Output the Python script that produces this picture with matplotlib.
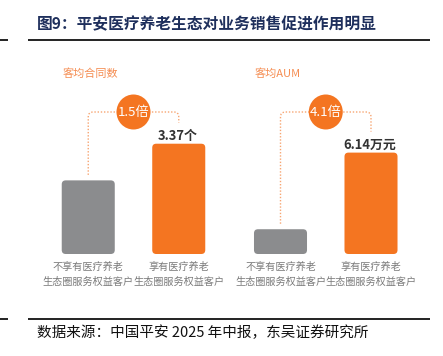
import matplotlib
matplotlib.use('Agg')
import matplotlib.pyplot as plt
from matplotlib.patches import FancyBboxPatch, Ellipse, PathPatch
from matplotlib.path import Path

plt.rcParams['font.family'] = ['Noto Sans CJK SC', 'DejaVu Sans']

# ---------------- data ----------------
title = "图9：平安医疗养老生态对业务销售促进作用明显"
source = "数据来源：中国平安 2025 年中报，东吴证券研究所"
categories = ["不享有医疗养老\n生态圈服务权益客户", "享有医疗养老\n生态圈服务权益客户"]
panel_titles = ["客均合同数", "客均AUM"]
contracts = [2.25, 3.37]          # 个
aum = [1.50, 6.14]                # 万元
value_labels = ["3.37个", "6.14万元"]
multiples = ["1.5倍", "4.1倍"]
ylims = [5.5, 10.9]

# ---------------- style ----------------
ORANGE = "#F47521"
LIGHT_ORANGE = "#F7A572"
TITLE_ORANGE = "#F58D52"
GRAY = "#8B8C8E"
LABEL_GRAY = "#7A7A7A"
NAVY = "#1E2F5C"

W, H = 443, 356
fig = plt.figure(figsize=(W / 100, H / 100), dpi=100)

panel_left_px = [43, 235.25]
ax_w, ax_h, ax_b = 181, 180, 102
axes = []
for i in range(2):
    ax = fig.add_axes([panel_left_px[i] / W, ax_b / H, ax_w / W, ax_h / H])
    ax.set_xlim(-0.5, 1.5)
    ax.set_ylim(0, ylims[i])
    ax.axis('off')
    ax.patch.set_facecolor('none')
    axes.append(ax)

ov = fig.add_axes([0, 0, 1, 1], zorder=5)
ov.set_xlim(0, W)
ov.set_ylim(0, H)
ov.axis('off')
ov.patch.set_facecolor('none')

def to_px(ax, x, y):
    return ax.transData.transform((x, y))

series = [contracts, aum]
colors = [GRAY, ORANGE]
bw = 0.586
for i, ax in enumerate(axes):
    vals = series[i]
    bars = ax.bar([0, 1], vals, width=bw, color=colors)
    px_rects = []
    for b in bars:
        (x0, y0), (x1, y1) = ax.transData.transform([(b.get_x(), 0), (b.get_x() + b.get_width(), b.get_height())])
        b.set_visible(False)
        ov.add_patch(FancyBboxPatch((x0, y0), x1 - x0, y1 - y0,
                                    boxstyle="round,pad=0,rounding_size=4",
                                    fc=b.get_facecolor(), ec='none', zorder=1))
        px_rects.append((x0, y0, x1, y1))

    # value label above tall bar
    xc, ytop = to_px(ax, 1, vals[1])
    ov.text(xc - 1.5, ytop + 8, value_labels[i], ha='center', va='center',
            fontsize=9.3, fontweight='bold', color='#333333', zorder=6)

    # panel title, left aligned with the gray bar
    ov.text(px_rects[0][0] + 1, H - 74, panel_titles[i], ha='left', va='center',
            fontsize=8, color=TITLE_ORANGE, zorder=6)

    # category labels
    for j, cat in enumerate(categories):
        xcen = (px_rects[j][0] + px_rects[j][2]) / 2
        for k, line in enumerate(cat.split("\n")):
            ov.text(xcen, px_rects[j][1] - 13 - 15 * k, line, ha='center', va='center',
                    fontsize=7.3, color=LABEL_GRAY, zorder=6)

    # dotted bracket
    xg, yg = to_px(ax, 0, vals[0])
    xo, yo = to_px(ax, 1, vals[1])
    yh = H - 112
    r = 5
    ystart = yg + 5.5
    yend = yo + 8 + 13
    verts = [(xg, ystart), (xg, yh - r), (xg, yh), (xg + r, yh),
             (xo - r, yh), (xo, yh), (xo, yh - r), (xo, yend)]
    codes = [Path.MOVETO, Path.LINETO, Path.CURVE3, Path.CURVE3,
             Path.LINETO, Path.CURVE3, Path.CURVE3, Path.LINETO]
    ov.add_patch(PathPatch(Path(verts, codes), fc='none', ec=LIGHT_ORANGE,
                           lw=1.0, ls=(0, (1, 1.3)), zorder=3))

    # multiple badge
    xm = (xg + xo) / 2
    ov.add_patch(Ellipse((xm, yh), 34, 35, fc=ORANGE, ec='none', zorder=4))
    ov.text(xm, yh, multiples[i], ha='center', va='center', fontsize=9.5,
            color='white', zorder=6)

# title and rules
ov.text(37, H - 24, title, ha='left', va='center', fontsize=11.3,
        fontweight='bold', color=NAVY, zorder=6)
for yy in (H - 40, H - 319):
    ov.plot([28, 430], [yy, yy], color='#111111', lw=1.3, solid_capstyle='butt')
    ov.plot([0, 8], [yy, yy], color='#111111', lw=1.3, solid_capstyle='butt')

ov.text(37, H - 333, source, ha='left', va='center', fontsize=10.5,
        color='#111111', zorder=6)

fig.savefig("out.png", dpi=100)
